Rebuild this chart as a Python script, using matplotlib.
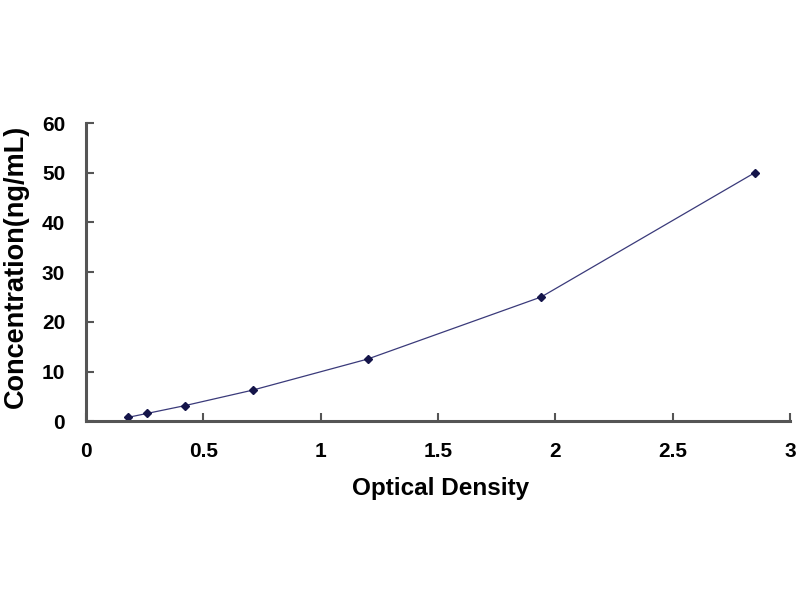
import matplotlib
matplotlib.use("Agg")
import matplotlib.pyplot as plt

# standard curve readings
od = [0.18, 0.26, 0.42, 0.71, 1.20, 1.94, 2.85]
conc = [0.78, 1.56, 3.12, 6.25, 12.5, 25, 50]

plt.rcParams['font.family'] = ['Liberation Sans', 'DejaVu Sans']
plt.rcParams['font.weight'] = 'bold'

fig = plt.figure(figsize=(8, 6), dpi=100)
ax = fig.add_axes([0.1075, 0.298, 0.88, 0.497])

ax.plot(od, conc, color='#3a3a7a', lw=0.9, marker='D', ms=4,
        mfc='#15154a', mec='#15154a')

ax.set_xlim(0, 3)
ax.set_ylim(0, 60)
ax.set_xticks([0, 0.5, 1, 1.5, 2, 2.5, 3])
ax.set_xticklabels(['0', '0.5', '1', '1.5', '2', '2.5', '3'])
ax.set_yticks(range(0, 61, 10))

for s in ['top', 'right']:
    ax.spines[s].set_visible(False)
for s in ['left', 'bottom']:
    ax.spines[s].set_linewidth(2.2)
    ax.spines[s].set_color('#555555')

ax.tick_params(direction='in', length=6, width=1.5, color='#555555',
               labelsize=15)
ax.tick_params(axis='x', pad=15)
ax.tick_params(axis='y', pad=15)

ax.set_xlabel('Optical Density', fontsize=17.5, fontweight='bold')
ax.set_ylabel('Concentration(ng/mL)', fontsize=19.5, fontweight='bold')
ax.xaxis.set_label_coords(0.503, -0.225)
ax.xaxis.label.set_va('center')
ax.yaxis.set_label_coords(-0.1, 0.52)
ax.yaxis.label.set_va('center')

fig.savefig('out.png', dpi=100)
